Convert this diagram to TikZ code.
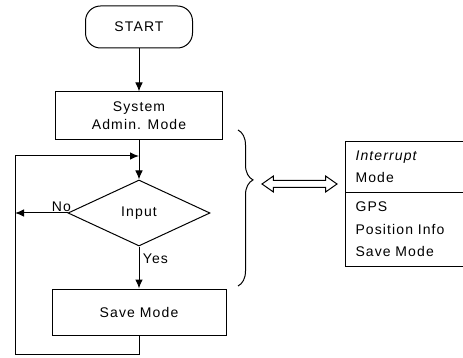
\documentclass[tikz,border=0pt]{standalone}
\usepackage{fontspec}
\setmainfont{Liberation Sans}[LetterSpace=8]
\usetikzlibrary{shapes.geometric,shapes.arrows,arrows.meta,decorations.pathreplacing}

\begin{document}
\begin{tikzpicture}[x=1pt,y=-1pt,line width=1pt,
  font=\fontsize{14}{18}\selectfont,
  box/.style={draw,rectangle,inner sep=0pt},
  arr/.style={-{Latex[length=9pt,width=7.5pt]}}]
\useasboundingbox (0,0) rectangle (463,358);
% flow chart
\node[draw,rounded corners=15pt,minimum width=107pt,minimum height=42pt] (start) at (139,27) {START};
\node[box,minimum width=167pt,minimum height=48pt,align=center] (admin) at (139,116) {System\\Admin. Mode};
\node[draw,diamond,aspect=2.15,inner sep=0pt,minimum width=142pt,minimum height=66pt] (input) at (139,213) {Input};
\node[box,minimum width=174pt,minimum height=46pt] (save) at (139,312) {Save Mode};
\coordinate (join) at (139,156);
\coordinate (back) at (15,156);
\draw[arr] (start) -- (admin);
\draw[arr] (admin) -- (input);
\draw[arr] (save.south) -- ++(0,19) -| (back) -- (join);
\draw[arr] (input.west) -- node[pos=0,above left,xshift=5pt,inner sep=1pt] {No} (input.west -| back);
\draw[arr] (input) -- node[pos=0.3,right] {Yes} (save);
% brace and mode box
\draw[decorate,decoration={brace,amplitude=15pt,aspect=0.32}] (238,130) -- (238,286);
\node[draw,double arrow,double arrow head extend=4.5pt,double arrow tip angle=70,inner sep=3pt,minimum height=75pt] (link) at (299.5,184) {};
\node[box,anchor=north west,minimum width=130pt,minimum height=51pt,text width=110pt,inner xsep=10pt,align=left,font=\fontsize{14}{22.5}\selectfont] (intr) at (345,141) {\textit{Interrupt}\\Mode};
\node[box,anchor=north west,minimum width=130pt,minimum height=74pt,text width=110pt,inner xsep=10pt,align=left,font=\fontsize{14}{22.5}\selectfont] (gps) at (345,192) {GPS\\Position Info\\Save Mode};
\end{tikzpicture}
\end{document}
